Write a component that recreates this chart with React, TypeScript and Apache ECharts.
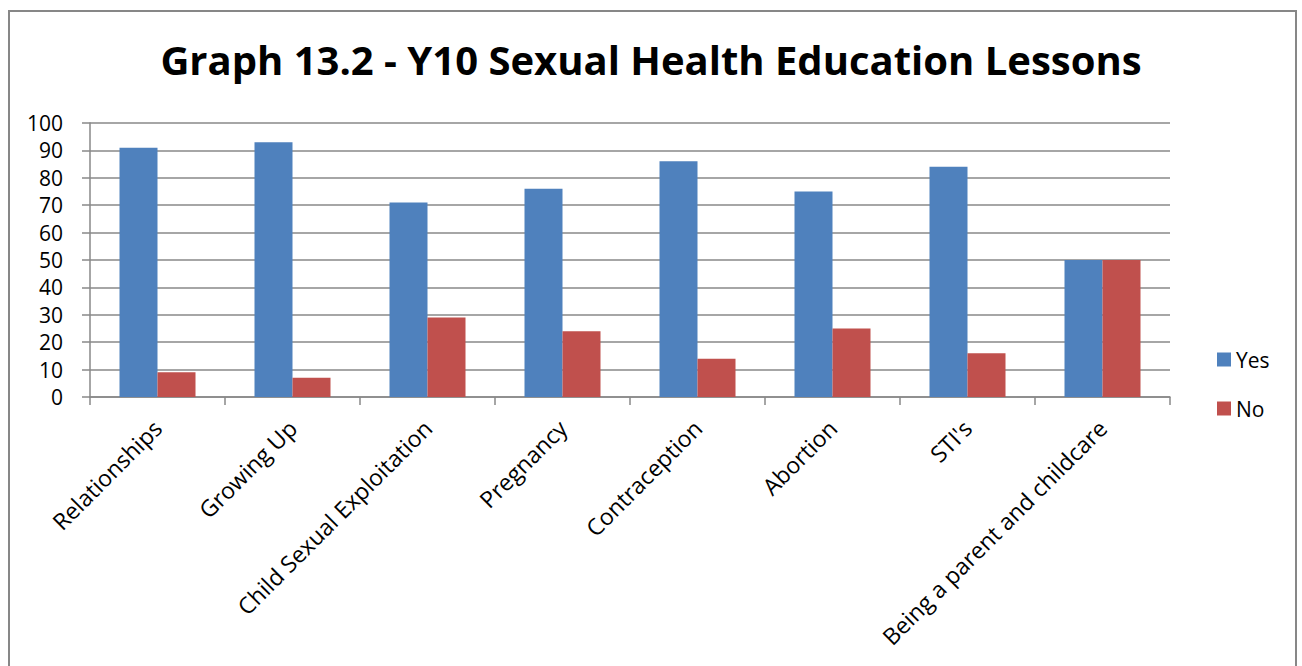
import React, { useEffect, useRef } from "react";
import * as echarts from "echarts";

const title = "Graph 13.2 - Y10 Sexual Health Education Lessons";
const categories = [
  "Relationships",
  "Growing Up",
  "Child Sexual Exploitation",
  "Pregnancy",
  "Contraception",
  "Abortion",
  "STI's",
  "Being a parent and childcare",
];
const yesValues = [91, 93, 71, 76, 86, 75, 84, 50];
const noValues = [9, 7, 29, 24, 14, 25, 16, 50];

const FONT = "Open Sans";

export default function App() {
  const ref = useRef<HTMLDivElement>(null);
  useEffect(() => {
    if (!ref.current) return;
    const chart = echarts.init(ref.current, null, { renderer: "svg" });
    chart.setOption({
      animation: false,
      backgroundColor: "#ffffff",
      textStyle: { fontFamily: FONT },
      title: {
        text: title,
        left: "center",
        top: 34,
        textStyle: { fontFamily: FONT, fontWeight: "bold", fontSize: 40, color: "#000" },
      },
      graphic: [
        {
          type: "rect",
          shape: { x: 9, y: 11, width: 1287, height: 700 },
          style: { fill: "none", stroke: "#878787", lineWidth: 2 },
          silent: true,
        },
      ],
      legend: {
        orient: "vertical",
        left: 1212,
        top: 344,
        itemWidth: 14,
        itemHeight: 14,
        itemGap: 28,
        icon: "rect",
        textStyle: { fontFamily: FONT, fontSize: 21, color: "#000" },
        data: ["Yes", "No"],
      },
      grid: { left: 90, right: 132, top: 123, bottom: 269, containLabel: false },
      xAxis: {
        type: "category",
        data: categories,
        axisLine: { show: true, lineStyle: { color: "#888", width: 1.5 } },
        axisTick: { show: true, length: 8, alignWithLabel: false, lineStyle: { color: "#888", width: 1.5 } },
        axisLabel: {
          rotate: 45,
          interval: 0,
          margin: 27,
          fontFamily: FONT,
          fontSize: 23,
          color: "#000",
        },
      },
      yAxis: {
        type: "value",
        min: 0,
        max: 100,
        interval: 10,
        axisLine: { show: true, lineStyle: { color: "#888", width: 1.5 } },
        axisTick: { show: true, length: 8, lineStyle: { color: "#888", width: 1.5 } },
        splitLine: { show: true, lineStyle: { color: "#888", width: 1.5 } },
        axisLabel: { margin: 27, fontFamily: FONT, fontSize: 21, color: "#000" },
      },
      series: [
        {
          name: "Yes",
          type: "bar",
          data: yesValues,
          barWidth: 38,
          barGap: "0%",
          itemStyle: { color: "#4F81BD" },
        },
        {
          name: "No",
          type: "bar",
          data: noValues,
          barWidth: 38,
          barGap: "0%",
          itemStyle: { color: "#C0504D" },
        },
      ],
    });
    return () => chart.dispose();
  }, []);
  return (
    <div
      ref={ref}
      style={{ position: "fixed", left: 0, top: 0, width: 1302, height: 666 }}
    />
  );
}
